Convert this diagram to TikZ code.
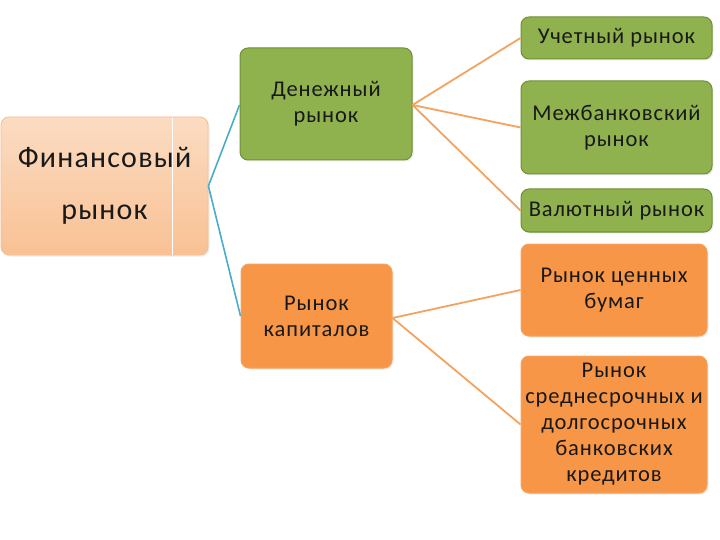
\documentclass[tikz,border=0pt]{standalone}
\usepackage{fontspec}
\setmainfont{Carlito}[LetterSpace=4]
\usetikzlibrary{shadows}
\definecolor{grn}{HTML}{8FB24F}
\definecolor{grnd}{HTML}{6F8F37}
\definecolor{org}{HTML}{F79646}
\definecolor{orgl}{HTML}{F5A35E}
\definecolor{peachT}{HTML}{FBDCC2}
\definecolor{peachB}{HTML}{F9C194}
\definecolor{blu}{HTML}{4BACC6}
\definecolor{lnk}{HTML}{F3A35F}
\tikzset{
  box/.style={rounded corners=8pt, align=center, inner sep=1pt, text=black!90,
    font=\fontsize{22.5}{26}\selectfont, drop shadow={opacity=0.15, shadow xshift=1.5pt, shadow yshift=-1.5pt}},
  gbox/.style={box, fill=grn, draw=grnd, line width=1pt},
  obox/.style={box, fill=org, draw=orgl, line width=1pt},
  blink/.style={draw=blu, line width=1.6pt},
  olink/.style={draw=lnk, line width=1.8pt},
}
\begin{document}
\begin{tikzpicture}[x=1pt,y=-1pt]
\useasboundingbox (0,0) rectangle (720,540);
\node[box, drop shadow={opacity=0}, top color=peachT, bottom color=peachB, draw=orgl!70, line width=0.8pt,
  minimum width=207pt, minimum height=138pt, font=\fontsize{30}{52}\selectfont] (fin) at (104.5,186) {Финансовый\\рынок};
\draw[white, line width=1pt] (172,118.5) -- (172,254.5);
\node[gbox, minimum width=172pt, minimum height=112pt] (den) at (326,104) {Денежный\\рынок};
\node[obox, minimum width=151pt, minimum height=104pt] (kap) at (316.5,316) {Рынок\\капиталов};
\node[gbox, minimum width=191pt, minimum height=42pt] (uch) at (616.5,38) {Учетный рынок};
\node[gbox, minimum width=191pt, minimum height=93pt] (mezh) at (616.5,127.5) {Межбанковский\\рынок};
\node[gbox, minimum width=191pt, minimum height=43pt] (val) at (616.5,210.5) {Валютный рынок};
\node[obox, minimum width=186pt, minimum height=92pt] (cen) at (614,290) {Рынок ценных\\бумаг};
\node[obox, minimum width=186pt, minimum height=137pt] (kred) at (614,424.5) {Рынок\\среднесрочных и\\долгосрочных\\банковских\\кредитов};
\coordinate (f) at (fin.east);
\draw[blink] (f) -- ([yshift=-1pt]den.west);
\draw[blink] (f) -- (kap.west);
\coordinate (d) at ([yshift=-1pt]den.east);
\draw[olink] (d) -- (uch.west);
\draw[olink] (d) -- (mezh.west);
\draw[olink] (d) -- (val.west);
\coordinate (k) at ([yshift=-2pt]kap.east);
\draw[olink] (k) -- (cen.west);
\draw[olink] (k) -- (kred.west);
\end{tikzpicture}
\end{document}
